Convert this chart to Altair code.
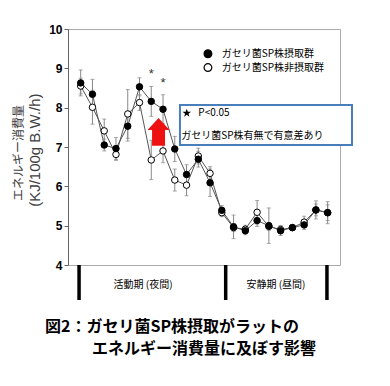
import altair as alt
import pandas as pd

hours = list(range(22))
sp_mean = [8.63, 8.34, 7.05, 6.96, 7.53, 8.53, 8.16, 7.96, 6.95, 6.30, 6.69, 6.09, 5.39, 4.97, 4.87, 5.13, 5.00, 4.87, 4.95, 5.02, 5.40, 5.33]
sp_sem = [0.33, 0.38, 0.15, 0.28, 0.38, 0.23, 0.38, 0.37, 0.32, 0.25, 0.20, 0.35, 0.12, 0.30, 0.10, 0.15, 0.45, 0.12, 0.06, 0.12, 0.23, 0.28]
ctl_mean = [8.55, 8.01, 7.41, 6.81, 7.84, 8.13, 6.67, 6.90, 6.16, 6.03, 6.77, 6.33, 5.33, 4.95, 4.91, 5.34, 4.98, 4.90, 4.95, 5.09, 5.40, 5.33]
ctl_sem = [0.20, 0.43, 0.30, 0.15, 0.62, 0.20, 0.50, 0.30, 0.28, 0.27, 0.20, 0.17, 0.10, 0.10, 0.10, 0.30, 0.10, 0.10, 0.06, 0.15, 0.15, 0.20]

y_title = ["エネルギー消費量", "(KJ/100g B.W./h)"]
legend_labels = ["ガセリ菌SP株摂取群", "ガセリ菌SP株非摂取群"]
period_labels = ["活動期 (夜間)", "安静期 (昼間)"]
period_bounds = [-0.14, 12.33, 20.94]
title_lines = ["図2：ガセリ菌SP株摂取がラットの", "エネルギー消費量に及ぼす影響"]
sig_hours = [6, 7]
note_lines = ["P<0.05", "ガセリ菌SP株有無で有意差あり"]

JP = "Noto Sans CJK JP"

sp = pd.DataFrame({"h": hours, "m": sp_mean, "lo": [m - s for m, s in zip(sp_mean, sp_sem)],
                   "hi": [m + s for m, s in zip(sp_mean, sp_sem)]})
ct = pd.DataFrame({"h": hours, "m": ctl_mean, "lo": [m - s for m, s in zip(ctl_mean, ctl_sem)],
                   "hi": [m + s for m, s in zip(ctl_mean, ctl_sem)]})

xs = alt.Scale(domain=[-1.08, 22.05], nice=False, zero=False)
ys = alt.Scale(domain=[4, 10], nice=False, zero=False)

yaxis = alt.Axis(values=[4, 5, 6, 7, 8, 9, 10], labelFont="Liberation Sans", labelFontWeight="bold",
                 labelFontSize=12, labelColor="black", domainColor="#666", tickColor="#666", tickSize=4,
                 grid=False, title="")

X = lambda f: alt.X(f, type="quantitative", scale=xs, axis=None)
Y = lambda f: alt.Y(f, type="quantitative", scale=ys, axis=yaxis)

def series(df, fill):
    base = alt.Chart(df)
    line = base.mark_line(color="#555", strokeWidth=1).encode(x=X("h"), y=Y("m"))
    err = base.mark_rule(color="#888", strokeWidth=1).encode(x=X("h"), y=Y("lo"), y2="hi")
    cap_lo = base.mark_point(shape="M-1,0L1,0", size=16, color="#888", strokeWidth=1, filled=False).encode(x=X("h"), y=Y("lo"))
    cap_hi = base.mark_point(shape="M-1,0L1,0", size=16, color="#888", strokeWidth=1, filled=False).encode(x=X("h"), y=Y("hi"))
    pts = base.mark_point(shape="circle", size=42, filled=True, fill=fill, stroke="black", strokeWidth=1, opacity=1).encode(x=X("h"), y=Y("m"))
    return line, err, cap_lo, cap_hi, pts

sl, se, sc1, sc2, sp_pts = series(sp, "black")
cl, ce, cc1, cc2, ct_pts = series(ct, "white")

# y-axis title (two lines, different fonts)
yt1 = alt.Chart(pd.DataFrame({"x": [-5.25], "y": [6.85], "t": [y_title[0]]})).mark_text(
    angle=270, baseline="middle", font=JP, fontSize=12, color="#404040").encode(x=X("x"), y=Y("y"), text="t:N")
yt2 = alt.Chart(pd.DataFrame({"x": [-3.85], "y": [6.92], "t": [y_title[1]]})).mark_text(
    angle=270, baseline="middle", font="Liberation Sans", fontSize=15, color="#404040").encode(x=X("x"), y=Y("y"), text="t:N")

# legend
leg = pd.DataFrame({"x": [10.82, 10.82], "y": [9.37, 9.02], "tx": [11.99, 11.99], "t": legend_labels,
                    "f": ["black", "white"]})
leg_pts = alt.Chart(leg).mark_point(shape="circle", size=60, filled=True, stroke="black", strokeWidth=1.2, opacity=1).encode(
    x=X("x"), y=Y("y"), fill=alt.Fill("f:N", scale=None))
leg_txt = alt.Chart(leg).mark_text(align="left", baseline="middle", font=JP, fontSize=10, color="black").encode(
    x=X("tx"), y=Y("y"), text="t:N")

# significance stars
stars = pd.DataFrame({"x": sig_hours, "y": [8.86, 8.63]})
star_txt = alt.Chart(stars).mark_text(text="*", fontSize=13, font="Liberation Sans", color="#333", baseline="middle").encode(
    x=X("x"), y=Y("y"))

# note box
box = pd.DataFrame({"x": [8.44], "x2": [23.07], "y": [8.07], "y2": [7.05]})
box_m = alt.Chart(box).mark_rect(fill="white", stroke="#4a7ebb", strokeWidth=2).encode(
    x=X("x"), x2="x2", y=Y("y"), y2="y2")
note = pd.DataFrame({"x": [10.0, 8.55], "y": [7.86, 7.29], "t": note_lines})
note_txt = alt.Chart(note).mark_text(align="left", baseline="middle", font=JP, fontSize=10, color="black").encode(
    x=X("x"), y=Y("y"), text="t:N")
star_sym = alt.Chart(pd.DataFrame({"x": [9.02], "y": [7.86]})).mark_point(
    shape="M0,-1L0.24,-0.31L0.95,-0.31L0.38,0.12L0.59,0.81L0,0.38L-0.59,0.81L-0.38,0.12L-0.95,-0.31L-0.24,-0.31Z",
    size=80, filled=True, color="black", opacity=1).encode(x=X("x"), y=Y("y"))

# red arrow
arrow = alt.Chart(pd.DataFrame({"x": [6.62], "y": [7.38]})).mark_point(
    shape="M0,-1.27L1,-0.18L0.59,-0.18L0.59,1.25L-0.59,1.25L-0.59,-0.18L-1,-0.18Z",
    size=484, filled=True, color="#ee1111", opacity=1).encode(x=X("x"), y=Y("y"))

# period dividers and labels
div = pd.DataFrame({"x": period_bounds, "y": [4.0] * 3, "y2": [3.11] * 3})
div_m = alt.Chart(div).mark_rule(color="black", strokeWidth=3.5).encode(x=X("x"), y=Y("y"), y2="y2")
per = pd.DataFrame({"x": [5.3, 16.6], "y": [3.49, 3.49], "t": period_labels})
per_txt = alt.Chart(per).mark_text(baseline="middle", font=JP, fontSize=10, color="black").encode(
    x=X("x"), y=Y("y"), text="t:N")

# figure caption
cap = pd.DataFrame({"x": [-3.04, 0.96], "y": [2.43, 1.87], "t": title_lines})
cap_txt = alt.Chart(cap).mark_text(align="left", baseline="middle", font=JP, fontSize=16, fontWeight="bold", color="black").encode(
    x=X("x"), y=Y("y"), text="t:N")

chart = alt.layer(
    cl, sl, ce, cc1, cc2, se, sc1, sc2, ct_pts, sp_pts, yt1, yt2,
    leg_pts, leg_txt, star_txt, arrow, box_m, note_txt, star_sym,
    div_m, per_txt, cap_txt
).properties(
    width=272, height=236,
    autosize=alt.AutoSizeParams(type="none"),
    padding={"left": 60, "top": 21, "right": 30, "bottom": 110},
    background="white",
).configure_view(stroke="#aaaaaa", strokeWidth=1)

chart.save("out.html", embed_options={"renderer": "svg", "actions": False})
